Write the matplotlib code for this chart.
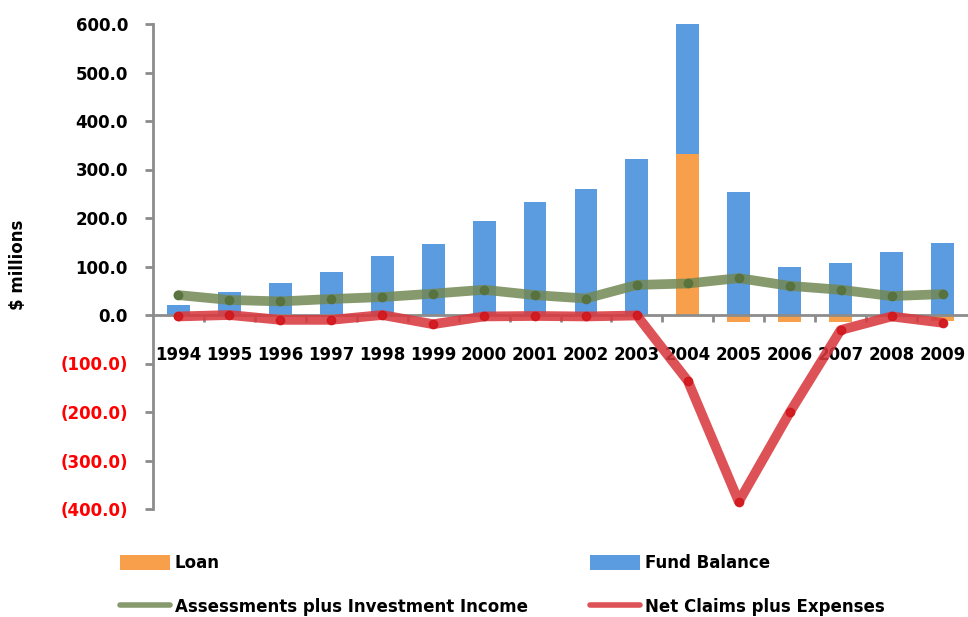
import matplotlib
matplotlib.use("Agg")
import matplotlib.pyplot as plt
from matplotlib.ticker import FixedLocator
import numpy as np

years = ["1994", "1995", "1996", "1997", "1998", "1999", "2000", "2001",
         "2002", "2003", "2004", "2005", "2006", "2007", "2008", "2009"]
loan = [0, 0, 0, 0, 0, 0, 0, 0, 0, 0, 331, -15, -15, -15, 0, -13]
fund_balance = [21, 48, 66, 88, 122, 146, 194, 234, 260, 321, 270, 254, 100, 108, 130, 148]
assessments = [41, 31, 28, 33, 37, 44, 52, 41, 34, 62, 65, 76, 60, 52, 39, 43]
net_claims = [-3, 0, -10, -10, 0, -19, -3, -2, -3, -1, -136, -385, -201, -31, -3, -16]
y_ticks = [600, 500, 400, 300, 200, 100, 0, -100, -200, -300, -400]

plt.rcParams['font.family'] = ['DejaVu Sans']
fig = plt.figure(figsize=(9.68, 6.17), dpi=100)
ax = fig.add_axes([153/968, 1-509/617, (968-153)/968, (509-24)/617])

x = np.arange(len(years))
loan_arr = np.array(loan, dtype=float)
fund_arr = np.array(fund_balance, dtype=float)
bottom_fund = np.where(loan_arr > 0, loan_arr, 0)

w = 0.45
ax.bar(x, loan_arr, width=w, color='#F79F4A', label='Loan', zorder=2)
ax.bar(x, fund_arr, width=w, bottom=bottom_fund, color='#5B9BE0', label='Fund Balance', zorder=2)

l1, = ax.plot(x, assessments, color='#728853', lw=7, alpha=0.85, solid_capstyle='round',
              solid_joinstyle='round', marker='o', ms=6, mfc='#55703A', mec='#55703A',
              label='Assessments plus Investment Income', zorder=3)
l2, = ax.plot(x, net_claims, color='#D93A3F', lw=7, alpha=0.88, solid_capstyle='round',
              solid_joinstyle='round', marker='o', ms=6, mfc='#D0161C', mec='#D0161C',
              label='Net Claims plus Expenses', zorder=4)

ax.set_xlim(-0.5, len(years) - 0.5)
ax.set_ylim(-400, 600)

for s in ['top', 'right']:
    ax.spines[s].set_visible(False)
ax.spines['bottom'].set_position(('data', 0))
ax.spines['bottom'].set_color('#8C8C8C')
ax.spines['bottom'].set_linewidth(2)
ax.spines['bottom'].set_zorder(2.5)
ax.spines['left'].set_color('#8C8C8C')
ax.spines['left'].set_linewidth(2)

ax.set_xticks(x)
ax.set_xticklabels(years, fontsize=12, fontweight='bold')
ax.xaxis.set_minor_locator(FixedLocator(np.arange(0.5, len(years) - 0.5, 1)))
ax.tick_params(axis='x', which='major', length=0, pad=22)
ax.tick_params(axis='x', which='minor', length=5, width=2, color='#8C8C8C', direction='out')

ax.set_yticks(y_ticks)
ax.set_yticklabels([f"{v:.1f}" if v >= 0 else f"({-v:.1f})" for v in y_ticks],
                   fontsize=12, fontweight='bold')
for lbl, v in zip(ax.get_yticklabels(), y_ticks):
    lbl.set_color('#FF0000' if v < 0 else 'black')
ax.tick_params(axis='y', length=6, width=2, color='#8C8C8C', pad=12)

fig.text(18/968, 1-265/617, '$ millions', rotation=90, fontsize=12, fontweight='bold',
         ha='center', va='center')

handles, labels = ax.get_legend_handles_labels()
order = ['Loan', 'Assessments plus Investment Income', 'Fund Balance', 'Net Claims plus Expenses']
hmap = dict(zip(labels, handles))
leg = fig.legend([hmap[k] for k in order], order, ncol=2, loc='lower left',
                 bbox_to_anchor=(105/968, -14/617), frameon=False,
                 prop={'weight': 'bold', 'size': 12}, handlelength=3.0, handleheight=1.0,
                 handletextpad=0.3, columnspacing=3.7, labelspacing=1.55)
for lh in leg.get_lines():
    lh.set_linewidth(4)
    lh.set_marker('')

fig.savefig('out.png', dpi=100)
